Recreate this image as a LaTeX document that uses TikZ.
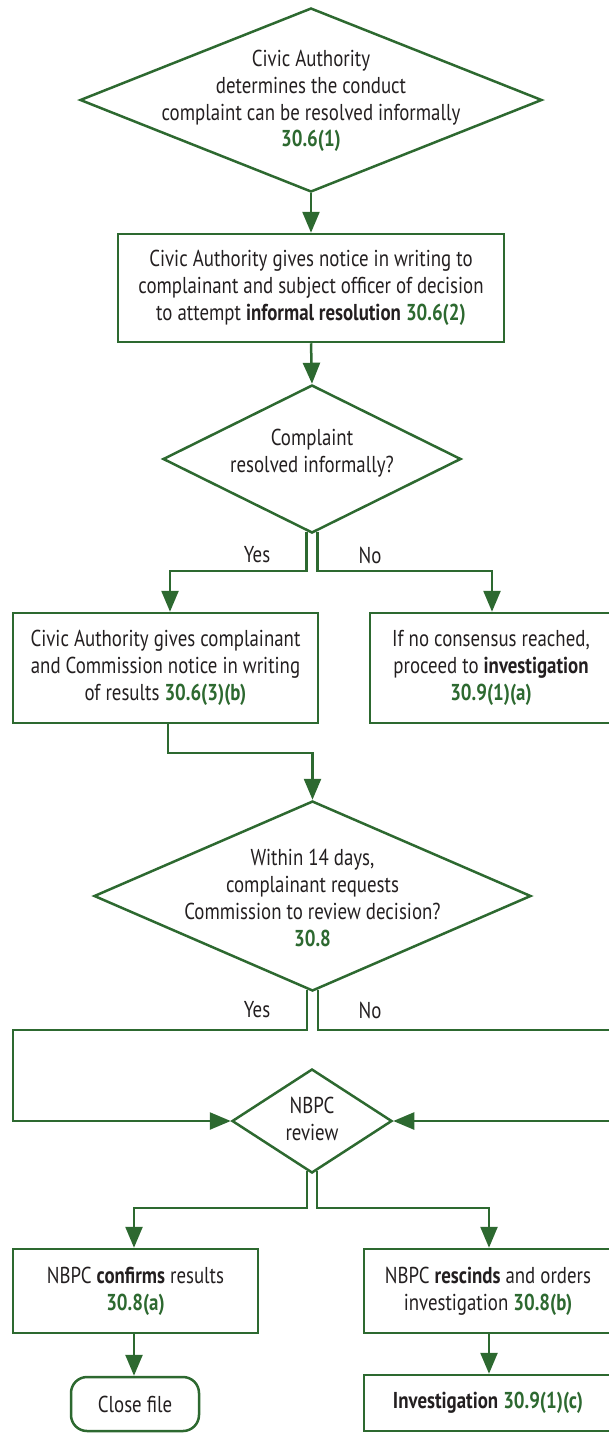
\documentclass[tikz,border=0pt]{standalone}
\usepackage{fontspec}
\setmainfont[FakeStretch=0.82]{PT Sans}
\usetikzlibrary{arrows.meta,shapes.geometric,calc}
\definecolor{flowgreen}{RGB}{45,105,48}
\definecolor{ink}{RGB}{35,31,32}
\newcommand{\sect}[1]{\textbf{\textcolor{flowgreen}{#1}}}
\begin{document}
\begin{tikzpicture}[x=1pt,y=-1pt,
  every node/.style={font=\fontsize{23}{26.8}\selectfont, text=ink, align=center},
  dia/.style={draw=flowgreen, line width=2.5pt, diamond, inner sep=0pt},
  box/.style={draw=flowgreen, line width=2.5pt, rectangle, inner sep=0pt},
  term/.style={box, rounded corners=16pt},
  link/.style={draw=flowgreen, line width=2.5pt},
  arr/.style={link, -{Triangle[length=21pt,width=17pt]}},
  ]
\useasboundingbox (0,0) rectangle (609,1433);

% decisions and steps
\node[dia, minimum width=462pt, minimum height=184pt] (d1) at (311,100) {};
\node (d1t) at (311,101) {Civic Authority\\determines the conduct\\complaint can be resolved informally\\\sect{30.6(1)}};

\node[box, minimum width=386pt, minimum height=108pt] (b2) at (311,288)
  {Civic Authority gives notice in writing to\\complainant and subject officer of decision\\to attempt \textbf{informal resolution} \sect{30.6(2)}};

\node[dia, minimum width=298pt, minimum height=148pt] (d2) at (312,459) {};
\node (d2t) at (312,453) {Complaint\\resolved informally?};

\node[box, minimum width=305pt, minimum height=110pt] (b3) at (165.5,668)
  {Civic Authority gives complainant\\and Commission notice in writing\\of results \sect{30.6(3)(b)}};
\node[box, minimum width=242pt, minimum height=110pt] (b4) at (491,668)
  {If no consensus reached,\\proceed to \textbf{investigation}\\\sect{30.9(1)(a)}};

\node[dia, minimum width=437pt, minimum height=190pt] (d3) at (312.5,896) {};
\node (d3t) at (312.5,898) {Within 14 days,\\complainant requests\\Commission to review decision?\\\sect{30.8}};

\node[dia, minimum width=160pt, minimum height=104pt] (nb) at (312,1121) {};
\node (nbt) at (312,1119) {NBPC\\review};

\node[box, minimum width=245pt, minimum height=84pt] (b5) at (135.5,1291)
  {NBPC \textbf{confirms} results\\\sect{30.8(a)}};
\node[box, minimum width=248pt, minimum height=84pt] (b6) at (488,1291)
  {NBPC \textbf{rescinds} and orders\\investigation \sect{30.8(b)}};
\node[term, minimum width=128pt, minimum height=54pt] (close) at (135,1404) {Close file};
\node[box, minimum width=248pt, minimum height=56pt] (b7) at (488,1403)
  {\textbf{Investigation} \sect{30.9(1)(c)}};

% branch labels
\node (yes1) at (257,555) {Yes};
\node (no1) at (370,555) {No};
\node (yes2) at (257,1010) {Yes};
\node (no2) at (370,1010) {No};

% bend points
\coordinate (ya) at (170,571);
\coordinate (na) at (492,571);
\coordinate (jb) at (168,753);
\coordinate (yc) at (13,1030);
\coordinate (nc) at (616,1030);
\coordinate (yd) at (134,1208);
\coordinate (nd) at (489,1208);

% connectors
\draw[arr] (d1.south) -- (b2.north);
\draw[arr] (b2.south) -- (d2.north);
\draw[arr] ($(d2.south)+(-5.5,-2.7)$) |- (ya) -- (ya |- b3.north);
\draw[arr] ($(d2.south)+(5.5,-2.7)$) |- (na) -- (na |- b4.north);
\draw[arr] (jb |- b3.south) -- (jb) -| (d3.north);
\draw[arr] ($(d3.south)+(-5.5,-2.4)$) |- (yc) |- (nb.west);
\draw[arr] ($(d3.south)+(5.5,-2.4)$) |- (nc) |- (nb.east);
\draw[arr] ($(nb.south)+(-5,-3.2)$) |- (yd) -- (yd |- b5.north);
\draw[arr] ($(nb.south)+(5,-3.2)$) |- (nd) -- (nd |- b6.north);
\draw[arr] (yd |- b5.south) -- (yd |- close.north);
\draw[arr] (nd |- b6.south) -- (nd |- b7.north);
\end{tikzpicture}
\end{document}
